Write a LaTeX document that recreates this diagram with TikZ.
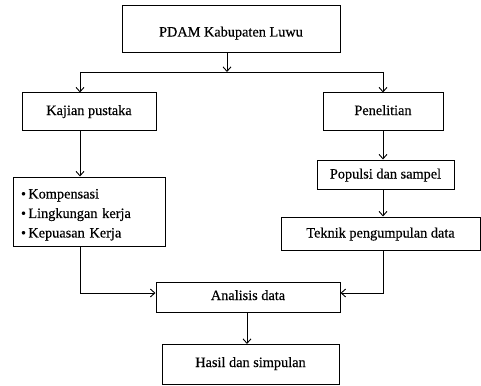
\documentclass[tikz,border=0pt]{standalone}
\usepackage{fontspec}
\setmainfont{Liberation Serif}[FakeBold=0.4]
\usetikzlibrary{arrows.meta}
\begin{document}
\begin{tikzpicture}[x=1pt,y=-1pt,
  box/.style={draw, line width=1pt, inner sep=0pt, font=\fontsize{14.3}{19.5}\selectfont},
  shiftbase/.style={text height={8pt+#1}, text depth={8pt-#1}},
  conn/.style={line width=0.9pt},
  arr/.style={conn, -{Straight Barb[length=4.5pt,width=8pt]}}]
\useasboundingbox (0,0) rectangle (481,385);
% boxes
\node[box, shiftbase=7pt, minimum width=218pt, minimum height=47pt] (top) at (231,29.5) {PDAM Kabupaten Luwu};
\node[box, shiftbase=3.5pt, minimum width=134pt, minimum height=37pt] (kaj) at (89,111.5) {Kajian pustaka};
\node[box, shiftbase=3.5pt, minimum width=120pt, minimum height=37pt] (pen) at (383,111.5) {Penelitian};
\node[box, minimum width=152pt, minimum height=69pt, text width=136pt, align=left] (bul) at (89,211.5)
  {\rule{0pt}{16pt}\textbullet\,Kompensasi\\\textbullet\,Lingkungan kerja\\\textbullet\,Kepuasan Kerja};
\node[box, shiftbase=4pt, minimum width=137pt, minimum height=29pt] (pop) at (385.5,174.5) {Populsi dan sampel};
\node[box, shiftbase=4pt, minimum width=199pt, minimum height=33pt] (tek) at (380.5,233.5) {Teknik pengumpulan data};
\node[box, shiftbase=3pt, minimum width=184pt, minimum height=30pt] (ana) at (248,297) {Analisis data};
\node[box, shiftbase=2.5pt, minimum width=177pt, minimum height=40pt] (has) at (250.5,364.5) {Hasil dan simpulan};
% helper coordinates
\coordinate (split) at (227,72);
\coordinate (L) at (80,72);
\coordinate (R) at (383,72);
\coordinate (M) at (248,293);
\coordinate (D) at (247,330);
% connectors
\draw[arr] (top.south -| split) -- (split);
\draw[conn] (L) -- (R);
\draw[arr] (L) -- (L |- kaj.north);
\draw[arr] (R) -- (R |- pen.north);
\draw[arr] (L |- kaj.south) -- (L |- bul.north);
\draw[arr] (R |- pen.south) -- (R |- pop.north);
\draw[arr] (R |- pop.south) -- (R |- tek.north);
\draw[arr] (L |- bul.south) |- (ana.west |- M);
\draw[arr] (R |- tek.south) |- (ana.east |- M);
\draw[arr] (D |- ana.south) -- (D |- has.north);
\end{tikzpicture}
\end{document}
